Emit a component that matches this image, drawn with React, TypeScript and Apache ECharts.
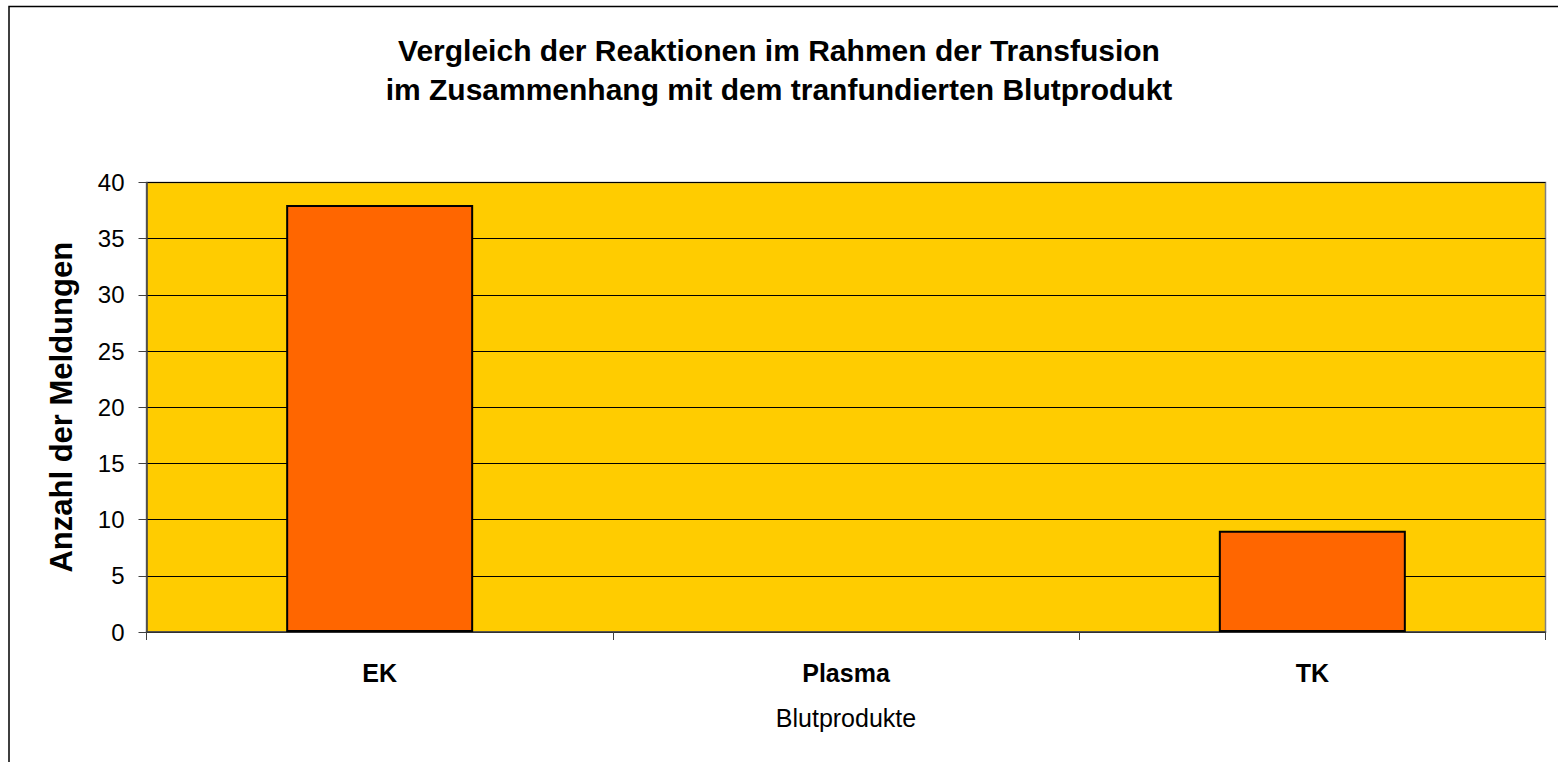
import React, { useEffect, useRef } from "react";
import * as echarts from "echarts";

const categories = ["EK", "Plasma", "TK"];
const values = [38, 0, 9];
const titleLines = [
  "Vergleich der Reaktionen im Rahmen der Transfusion",
  "im Zusammenhang mit dem tranfundierten Blutprodukt",
];
const yAxisName = "Anzahl der Meldungen";
const xAxisName = "Blutprodukte";

export default function App() {
  const ref = useRef<HTMLDivElement>(null);
  useEffect(() => {
    if (!ref.current) return;
    const chart = echarts.init(ref.current, null, { renderer: "svg" });
    const font = "'Liberation Sans', Arial, sans-serif";
    chart.setOption({
      animation: false,
      backgroundColor: "#ffffff",
      textStyle: { fontFamily: font },
      title: {
        text: titleLines.join("\n"),
        left: "center",
        top: 31,
        padding: 0,
        textStyle: {
          fontFamily: font,
          fontSize: 30,
          fontWeight: "bold",
          color: "#000",
          lineHeight: 39,
        },
      },
      graphic: [
        {
          type: "rect",
          shape: { x: 9, y: 6.5, width: 1700, height: 900 },
          style: { fill: "none", stroke: "#000", lineWidth: 1.5 },
          silent: true,
          z: 100,
        },
      ],
      grid: {
        left: 146.5,
        top: 182.5,
        right: 12.5,
        bottom: 130,
        show: true,
        backgroundColor: "#FFCC00",
        borderColor: "#808080",
        borderWidth: 1.5,
        containLabel: false,
      },
      xAxis: {
        type: "category",
        data: categories,
        boundaryGap: true,
        axisLine: { lineStyle: { color: "#404040", width: 1.5 } },
        axisTick: { show: true, length: 8, lineStyle: { color: "#404040" } },
        axisLabel: {
          fontFamily: font,
          fontSize: 25,
          fontWeight: "bold",
          color: "#000",
          margin: 28,
        },
        name: xAxisName,
        nameLocation: "middle",
        nameGap: 73,
        nameTextStyle: { fontFamily: font, fontSize: 25, color: "#000" },
        splitLine: { show: false },
      },
      yAxis: {
        type: "value",
        min: 0,
        max: 40,
        interval: 5,
        axisLine: { show: true, lineStyle: { color: "#404040", width: 1.5 } },
        axisTick: { show: true, length: 8, lineStyle: { color: "#404040" } },
        axisLabel: {
          fontFamily: font,
          fontSize: 24,
          color: "#000",
          margin: 22,
        },
        splitLine: { show: true, lineStyle: { color: "#000", width: 1 } },
        name: yAxisName,
        nameLocation: "middle",
        nameRotate: 90,
        nameGap: 70,
        nameTextStyle: {
          fontFamily: font,
          fontSize: 31,
          fontWeight: "bold",
          color: "#000",
        },
      },
      series: [
        {
          type: "bar",
          data: values.map((v) =>
            v === 0 ? { value: v, itemStyle: { borderWidth: 0 } } : v
          ),
          barWidth: 187,
          itemStyle: { color: "#FF6600", borderColor: "#000", borderWidth: 2 },
        },
      ],
    });
    return () => chart.dispose();
  }, []);
  return (
    <div
      ref={ref}
      style={{ position: "fixed", left: 0, top: 0, width: 1558, height: 762 }}
    />
  );
}
